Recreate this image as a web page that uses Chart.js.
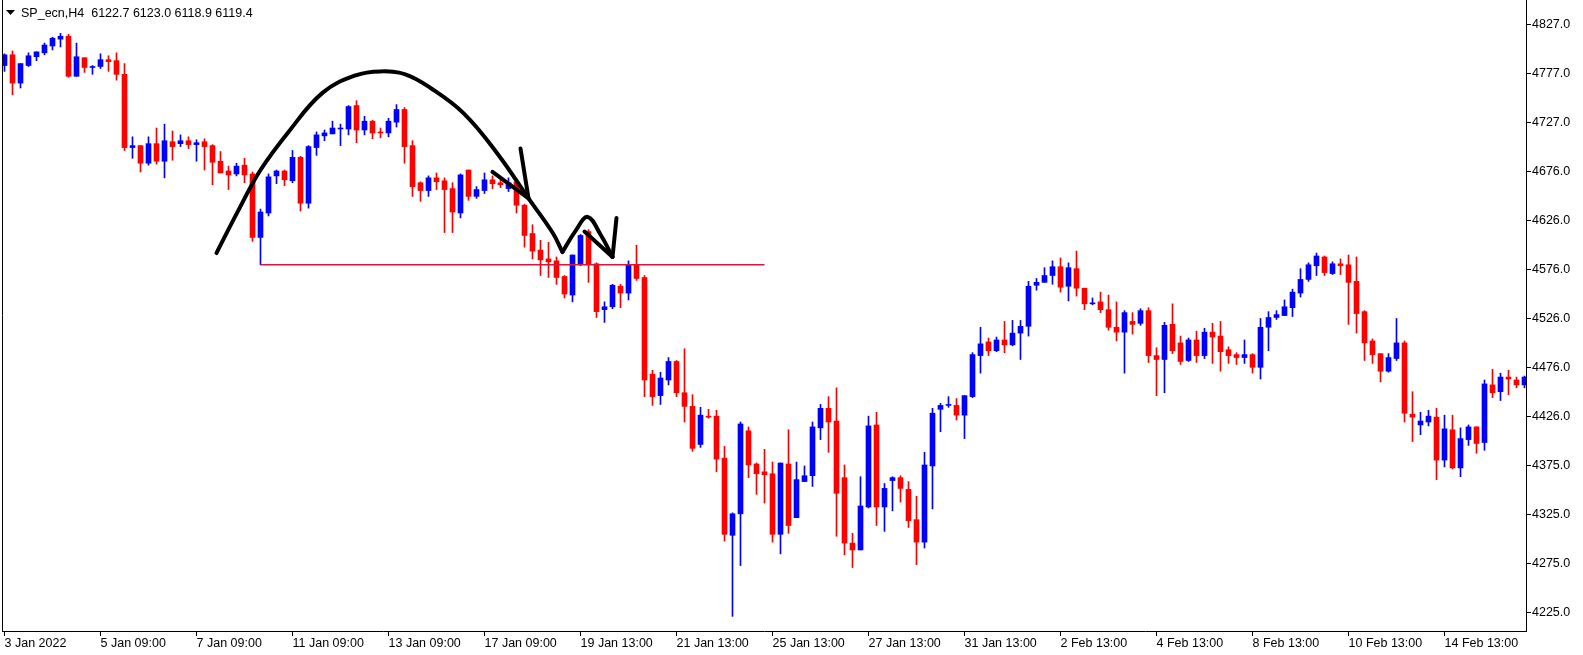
<!DOCTYPE html>
<html>
<head>
<meta charset="utf-8">
<script src="https://cdn.jsdelivr.net/npm/chart.js@4.4.1/dist/chart.umd.min.js"></script>
<style>
  html, body { margin: 0; padding: 0; background: #fff; }
  #wrap { width: 1583px; height: 655px; }
</style>
</head>
<body>
<div id="wrap"><canvas id="chart" width="1583" height="655"></canvas></div>
<script>
// ── Data (H4 bars) ────────────────────────────────────────────────────────────
const opens = [
  4785,4796,4767,4785,4794,4798,4805,4812,4815,4774,4793,4783,4784,4791,4790,4776,4701,4703,4685,4705,
  4687,4707,4705,4708,4704,4707,4703,4687,4677,4674,4683,4674,4609,4634,4672,4677,4667,4691,4644,4701,
  4713,4715,4720,4720,4744,4719,4728,4717,4716,4727,4740,4703,4665,4657,4670,4667,4659,4634,4678,4651,
  4657,4668,4665,4659,4666,4642,4613,4596,4587,4585,4569,4550,4581,4615,4582,4535,4538,4559,4552,4581,
  4568,4469,4447,4463,4482,4450,4436,4397,4426,4426,4383,4304,4326,4411,4377,4369,4367,4305,4377,4322,
  4359,4365,4414,4434,4421,4363,4296,4289,4333,4417,4333,4360,4363,4351,4320,4297,4375,4433,4437,4437,
  4427,4446,4488,4502,4493,4504,4499,4511,4518,4560,4563,4570,4579,4559,4577,4557,4541,4543,4535,4517,
  4512,4523,4521,4534,4488,4484,4520,4501,4483,4504,4488,4512,4508,4494,4489,4486,4489,4476,4517,4527,
  4529,4537,4552,4566,4580,4589,4572,4582,4581,4564,4533,4503,4490,4472,4485,4501,4428,4417,4420,4425,
  4381,4412,4373,4402,4415,4399,4458,4451,4466,4463,4458
];
const highs = [
  4797,4800,4787,4798,4799,4808,4814,4818,4817,4808,4793,4785,4797,4795,4798,4787,4712,4703,4712,4721,
  4725,4718,4714,4712,4709,4710,4704,4697,4682,4685,4690,4676,4638,4674,4678,4678,4698,4692,4703,4717,
  4719,4728,4725,4744,4749,4733,4729,4721,4731,4745,4742,4708,4666,4672,4675,4670,4665,4674,4678,4661,
  4675,4672,4668,4670,4669,4643,4622,4606,4604,4589,4570,4591,4612,4617,4583,4543,4561,4561,4585,4601,
  4570,4473,4471,4486,4483,4495,4448,4435,4433,4432,4395,4327,4420,4415,4378,4392,4379,4378,4412,4379,
  4375,4420,4438,4446,4455,4376,4306,4364,4426,4430,4357,4364,4365,4359,4344,4389,4434,4439,4446,4444,
  4447,4491,4517,4506,4507,4523,4524,4524,4564,4567,4578,4585,4588,4583,4595,4557,4547,4553,4550,4543,
  4534,4532,4536,4537,4496,4522,4541,4508,4506,4513,4516,4521,4523,4497,4491,4504,4490,4526,4533,4534,
  4545,4556,4577,4583,4593,4590,4584,4587,4591,4589,4534,4505,4490,4490,4526,4503,4451,4430,4432,4434,
  4427,4427,4414,4417,4415,4463,4474,4470,4473,4466,4467
];
const lows = [
  4779,4755,4762,4784,4790,4796,4801,4804,4773,4774,4778,4776,4782,4779,4770,4698,4690,4676,4683,4684,
  4670,4688,4702,4700,4687,4678,4663,4675,4658,4672,4665,4605,4581,4631,4664,4662,4665,4636,4639,4693,
  4708,4715,4703,4714,4706,4714,4710,4711,4712,4722,4685,4651,4646,4651,4658,4614,4614,4629,4647,4649,
  4654,4659,4660,4656,4634,4599,4587,4570,4568,4561,4547,4543,4580,4563,4527,4522,4536,4537,4545,4565,
  4446,4437,4438,4458,4446,4420,4390,4394,4424,4369,4298,4221,4273,4363,4346,4337,4297,4285,4306,4322,
  4359,4354,4402,4389,4303,4284,4271,4289,4332,4314,4308,4329,4338,4312,4274,4291,4331,4410,4435,4422,
  4403,4445,4470,4488,4492,4491,4498,4484,4508,4555,4563,4561,4553,4544,4549,4535,4540,4532,4514,4503,
  4470,4510,4519,4481,4447,4450,4490,4479,4482,4481,4485,4480,4472,4480,4479,4480,4470,4464,4493,4525,
  4529,4528,4548,4564,4570,4570,4571,4571,4520,4511,4483,4480,4461,4471,4483,4420,4400,4407,4416,4361,
  4374,4372,4364,4396,4388,4391,4445,4442,4448,4455,4455
];
const closes = [
  4796,4767,4787,4795,4799,4806,4813,4815,4774,4794,4783,4784,4791,4789,4776,4701,4703,4685,4705,4687,
  4708,4702,4708,4704,4706,4702,4686,4675,4673,4682,4673,4609,4635,4671,4677,4668,4691,4644,4702,4714,
  4716,4721,4721,4743,4719,4728,4716,4716,4728,4740,4702,4661,4657,4670,4666,4658,4635,4673,4651,4658,
  4668,4664,4663,4665,4642,4611,4595,4586,4584,4568,4551,4591,4611,4581,4533,4538,4560,4552,4581,4567,
  4463,4446,4465,4482,4450,4436,4393,4427,4425,4382,4305,4326,4418,4376,4367,4366,4305,4378,4314,4361,
  4365,4415,4434,4420,4347,4296,4289,4334,4416,4333,4352,4363,4352,4319,4297,4376,4429,4437,4438,4427,
  4447,4489,4500,4493,4504,4499,4511,4518,4559,4563,4570,4579,4558,4578,4557,4541,4542,4535,4517,4512,
  4532,4520,4534,4488,4484,4519,4493,4482,4504,4488,4512,4507,4492,4488,4486,4489,4476,4517,4527,4530,
  4538,4553,4566,4581,4590,4573,4582,4580,4563,4531,4501,4489,4472,4486,4501,4429,4425,4421,4426,4381,
  4413,4373,4403,4415,4398,4459,4450,4466,4464,4458,4466
];

const xTickIdx    = [0, 12, 24, 36, 48, 60, 72, 84, 96, 108, 120, 132, 144, 156, 168, 180];
const xTickLabels = ['3 Jan 2022', '5 Jan 09:00', '7 Jan 09:00', '11 Jan 09:00', '13 Jan 09:00', '17 Jan 09:00',
                     '19 Jan 13:00', '21 Jan 13:00', '25 Jan 13:00', '27 Jan 13:00', '31 Jan 13:00', '2 Feb 13:00',
                     '4 Feb 13:00', '8 Feb 13:00', '10 Feb 13:00', '14 Feb 13:00'];
const yTickValues = [4225, 4275, 4325, 4375, 4426, 4476, 4526, 4576, 4626, 4676, 4727, 4777, 4827];

const headerText = 'SP_ecn,H4  6122.7 6123.0 6118.9 6119.4';

// hand-drawn marks, as [bar index, price]
const levelPrice = 4581;
const levelFrom  = 32;
const levelTo    = 95;
const arcPath  = [[26.5,4593],[29.25,4637],[32,4678],[35.5,4717],[39.75,4757],[43.9,4775],[47,4779],
                  [50.1,4776],[53.25,4762],[57.4,4736],[61.6,4695],[65.5,4649],[68.5,4614],[69.75,4594]];
const hookPath = [[69.75,4594],[71.4,4616],[72.9,4630],[74.5,4612],[76,4589]];
const strokes  = [
  [[61,4676],[65.5,4649]],
  [[64.5,4700],[65.5,4649]],
  [[72.5,4615],[76,4589]],
  [[76,4589],[76.5,4629]],
];

// ── Chart ─────────────────────────────────────────────────────────────────────
const BULL = '#0000ff';
const BEAR = '#ff0000';
const FONT = { family: '"Liberation Sans", Arial, sans-serif', size: 12.5 };

const candleColors = closes.map((c, i) => c >= opens[i] ? BULL : BEAR);
const wickData = lows.map((l, i) => ({ x: i, y: [l, highs[i]] }));
const bodyData = opens.map((o, i) => {
  const c = closes[i];
  // doji: keep a 1px sliver so the cross shows
  return Math.abs(c - o) < 1 ? { x: i, y: [o - 0.5, o + 0.5] } : { x: i, y: [o, c] };
});

const pts = arr => arr.map(([x, y]) => ({ x, y }));
const penLine = (data, tension) => ({
  type: 'line', data: pts(data), borderColor: '#000', borderWidth: 4,
  borderCapStyle: 'round', borderJoinStyle: 'round', pointRadius: 0, fill: false, order: 0, tension,
});

const chrome = {
  id: 'chrome',
  afterDraw(chart) {
    const { ctx, chartArea: a } = chart;
    ctx.save();
    ctx.strokeStyle = '#000';
    ctx.lineWidth = 1;
    ctx.beginPath();
    ctx.moveTo(a.left + 0.5, a.bottom);
    ctx.lineTo(a.left + 0.5, 0);
    ctx.stroke();
    ctx.fillStyle = '#000';
    ctx.beginPath();
    ctx.moveTo(6, 10); ctx.lineTo(15, 10); ctx.lineTo(10.5, 15);
    ctx.closePath();
    ctx.fill();
    ctx.font = '12.5px "Liberation Sans", Arial, sans-serif';
    ctx.textBaseline = 'alphabetic';
    ctx.fillText(headerText, 21, 17);
    ctx.restore();
  }
};

new Chart(document.getElementById('chart'), {
  type: 'bar',
  data: {
    datasets: [
      ...strokes.map(s => penLine(s, 0)),
      penLine(arcPath, 0.4),
      penLine(hookPath, 0.4),
      {
        type: 'line', data: [{ x: levelFrom, y: levelPrice }, { x: levelTo, y: levelPrice }],
        borderColor: 'rgb(220,20,60)', borderWidth: 1.5, pointRadius: 0, order: 1,
      },
      { data: bodyData, backgroundColor: candleColors, barThickness: 5, grouped: false, order: 2 },
      { data: wickData, backgroundColor: candleColors, barThickness: 1, grouped: false, order: 3 },
    ]
  },
  options: {
    responsive: false,
    animation: false,
    devicePixelRatio: 1,
    layout: { padding: { left: 2, top: 0, right: 0, bottom: 0 } },
    plugins: { legend: { display: false }, tooltip: { enabled: false } },
    scales: {
      x: {
        type: 'linear', position: 'bottom', offset: false,
        min: -0.3125, max: 190.1875,
        afterBuildTicks: s => { s.ticks = xTickIdx.map(v => ({ value: v })); },
        afterFit: s => { s.height = 24; s.paddingLeft = 0; s.paddingRight = 0; },
        ticks: {
          autoSkip: false, maxRotation: 0, align: 'start', padding: 0, color: '#000', font: FONT,
          callback: v => { const k = xTickIdx.indexOf(v); return k >= 0 ? xTickLabels[k] : ''; },
        },
        grid: { offset: false, drawOnChartArea: false, tickLength: 5, color: '#000' },
        border: { display: true, color: '#000' },
      },
      y: {
        type: 'linear', position: 'right', beginAtZero: false,
        min: 4206.0, max: 4852.1,
        afterBuildTicks: s => { s.ticks = yTickValues.map(v => ({ value: v })); },
        afterFit: s => { s.width = 57; s.paddingTop = 0; s.paddingBottom = 0; },
        ticks: { padding: 1, color: '#000', font: FONT, callback: v => v.toFixed(1) },
        grid: { drawOnChartArea: false, tickLength: 5, color: '#000' },
        border: { display: true, color: '#000' },
      },
    },
  },
  plugins: [chrome],
});
</script>
</body>
</html>
